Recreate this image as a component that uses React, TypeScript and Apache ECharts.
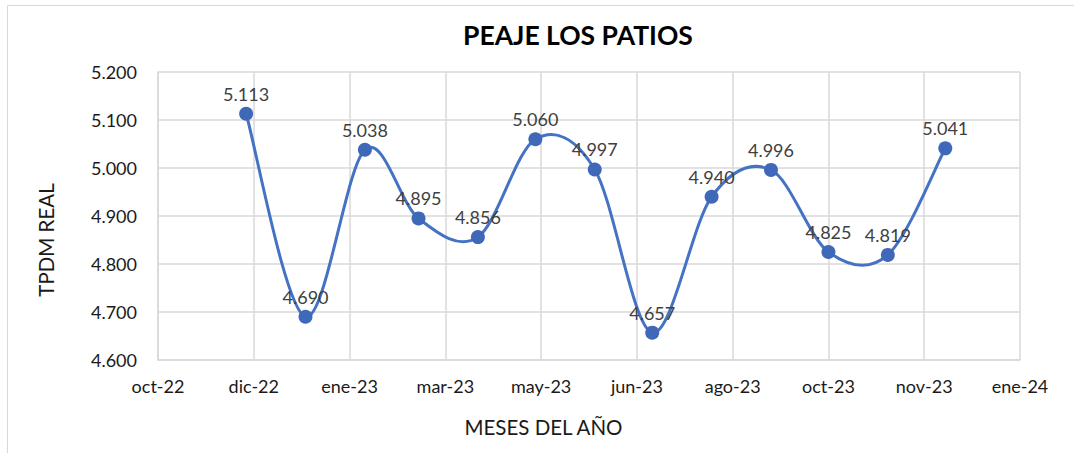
import React, { useEffect, useRef } from "react";
import * as echarts from "echarts";

// Monthly traffic (TPDM real) at the Los Patios toll station
const months = [
  "2022-12-01", "2023-01-01", "2023-02-01", "2023-03-01", "2023-04-01",
  "2023-05-01", "2023-06-01", "2023-07-01", "2023-08-01", "2023-09-01",
  "2023-10-01", "2023-11-01", "2023-12-01",
];
const tpdm = [5113, 4690, 5038, 4895, 4856, 5060, 4997, 4657, 4940, 4996, 4825, 4819, 5041];

// Date axis: starts on 16-oct-2022, one major tick every 50 days
const axisStart = "2022-10-16";
const axisDays = 450;
const tickDays = 50;
const monthNames = ["ene", "feb", "mar", "abr", "may", "jun", "jul", "ago", "sep", "oct", "nov", "dic"];

const DAY = 86400000;
const startMs = Date.parse(axisStart + "T00:00:00Z");
const toDays = (iso: string) => Math.round((Date.parse(iso + "T00:00:00Z") - startMs) / DAY);
const dayLabel = (d: number) => {
  const dt = new Date(startMs + d * DAY);
  return monthNames[dt.getUTCMonth()] + "-" + String(dt.getUTCFullYear()).slice(2);
};
const thousands = (v: number) => {
  const n = Math.round(v);
  const hi = Math.floor(n / 1000);
  const lo = String(n % 1000).padStart(3, "0");
  return hi > 0 ? `${hi}.${lo}` : String(n);
};

const FONT = "Lato";
const GRID = "#d9d9d9";
const LINE = "#4472C4";

export default function App() {
  const ref = useRef<HTMLDivElement>(null);

  useEffect(() => {
    if (!ref.current) return;
    const chart = echarts.init(ref.current, undefined, { renderer: "svg" });
    const data = months.map((m, i) => [toDays(m), tpdm[i]]);

    // Smoothed line: Catmull-Rom segments (tension 1/6) between consecutive points
    const renderSegment = (params: any, api: any) => {
      const i = params.dataIndex;
      if (i >= data.length - 1) return { type: "group", children: [] };
      const p = (k: number) => api.coord(data[Math.max(0, Math.min(data.length - 1, k))]);
      const p0 = p(i - 1), p1 = p(i), p2 = p(i + 1), p3 = p(i + 2);
      return {
        type: "bezierCurve",
        shape: {
          x1: p1[0], y1: p1[1],
          x2: p2[0], y2: p2[1],
          cpx1: p1[0] + (p2[0] - p0[0]) / 6,
          cpy1: p1[1] + (p2[1] - p0[1]) / 6,
          cpx2: p2[0] - (p3[0] - p1[0]) / 6,
          cpy2: p2[1] - (p3[1] - p1[1]) / 6,
        },
        style: { stroke: LINE, lineWidth: 3, fill: "none", lineCap: "round" },
      };
    };

    chart.setOption({
      animation: false,
      backgroundColor: "#ffffff",
      textStyle: { fontFamily: FONT },
      title: {
        text: "PEAJE LOS PATIOS",
        left: 458,
        top: 16,
        textStyle: { fontFamily: FONT, fontSize: 26.5, fontWeight: "bold", color: "#000000" },
      },
      graphic: [
        {
          type: "rect",
          silent: true,
          shape: { x: 7.5, y: 5.5, width: 1200, height: 600 },
          style: { fill: "none", stroke: GRID, lineWidth: 1 },
        },
      ],
      grid: { left: 158, right: 54, top: 72, bottom: 93, containLabel: false },
      xAxis: {
        type: "value",
        min: 0,
        max: axisDays,
        interval: tickDays,
        name: "MESES DEL AÑO",
        nameLocation: "middle",
        nameGap: 56,
        nameTextStyle: { fontFamily: FONT, fontSize: 20.5, color: "#1a1a1a", padding: [0, 91, 0, 0] },
        axisLine: { show: true, lineStyle: { color: GRID, width: 1.5 } },
        axisTick: { show: false },
        splitLine: { show: true, lineStyle: { color: GRID, width: 1.5 } },
        axisLabel: {
          margin: 17,
          fontFamily: FONT,
          fontSize: 18,
          color: "#1a1a1a",
          formatter: (v: number) => dayLabel(v),
        },
      },
      yAxis: {
        type: "value",
        min: 4600,
        max: 5200,
        interval: 100,
        name: "TPDM REAL",
        nameLocation: "middle",
        nameGap: 102,
        nameTextStyle: { fontFamily: FONT, fontSize: 20.5, color: "#1a1a1a", padding: [0, 48, 0, 0] },
        axisLine: { show: true, lineStyle: { color: GRID, width: 1.5 } },
        axisTick: { show: false },
        splitLine: { show: true, lineStyle: { color: GRID, width: 1.5 } },
        axisLabel: {
          margin: 21,
          fontFamily: FONT,
          fontSize: 18,
          color: "#1a1a1a",
          formatter: (v: number) => thousands(v),
        },
      },
      series: [
        {
          type: "custom",
          name: "TPDM REAL",
          data,
          renderItem: renderSegment,
          encode: { x: 0, y: 1 },
          silent: true,
          z: 2,
        },
        {
          type: "scatter",
          name: "TPDM REAL",
          data,
          symbol: "circle",
          symbolSize: 14,
          itemStyle: { color: "#4068B8", opacity: 1 },
          z: 3,
          label: {
            show: true,
            position: "top",
            distance: 4,
            fontFamily: FONT,
            fontSize: 18,
            color: "#404040",
            formatter: (p: any) => thousands(p.value[1]),
          },
        },
      ],
    });

    return () => chart.dispose();
  }, []);

  return (
    <div
      ref={ref}
      style={{ position: "fixed", left: 0, top: 0, width: 1074, height: 453 }}
    />
  );
}
